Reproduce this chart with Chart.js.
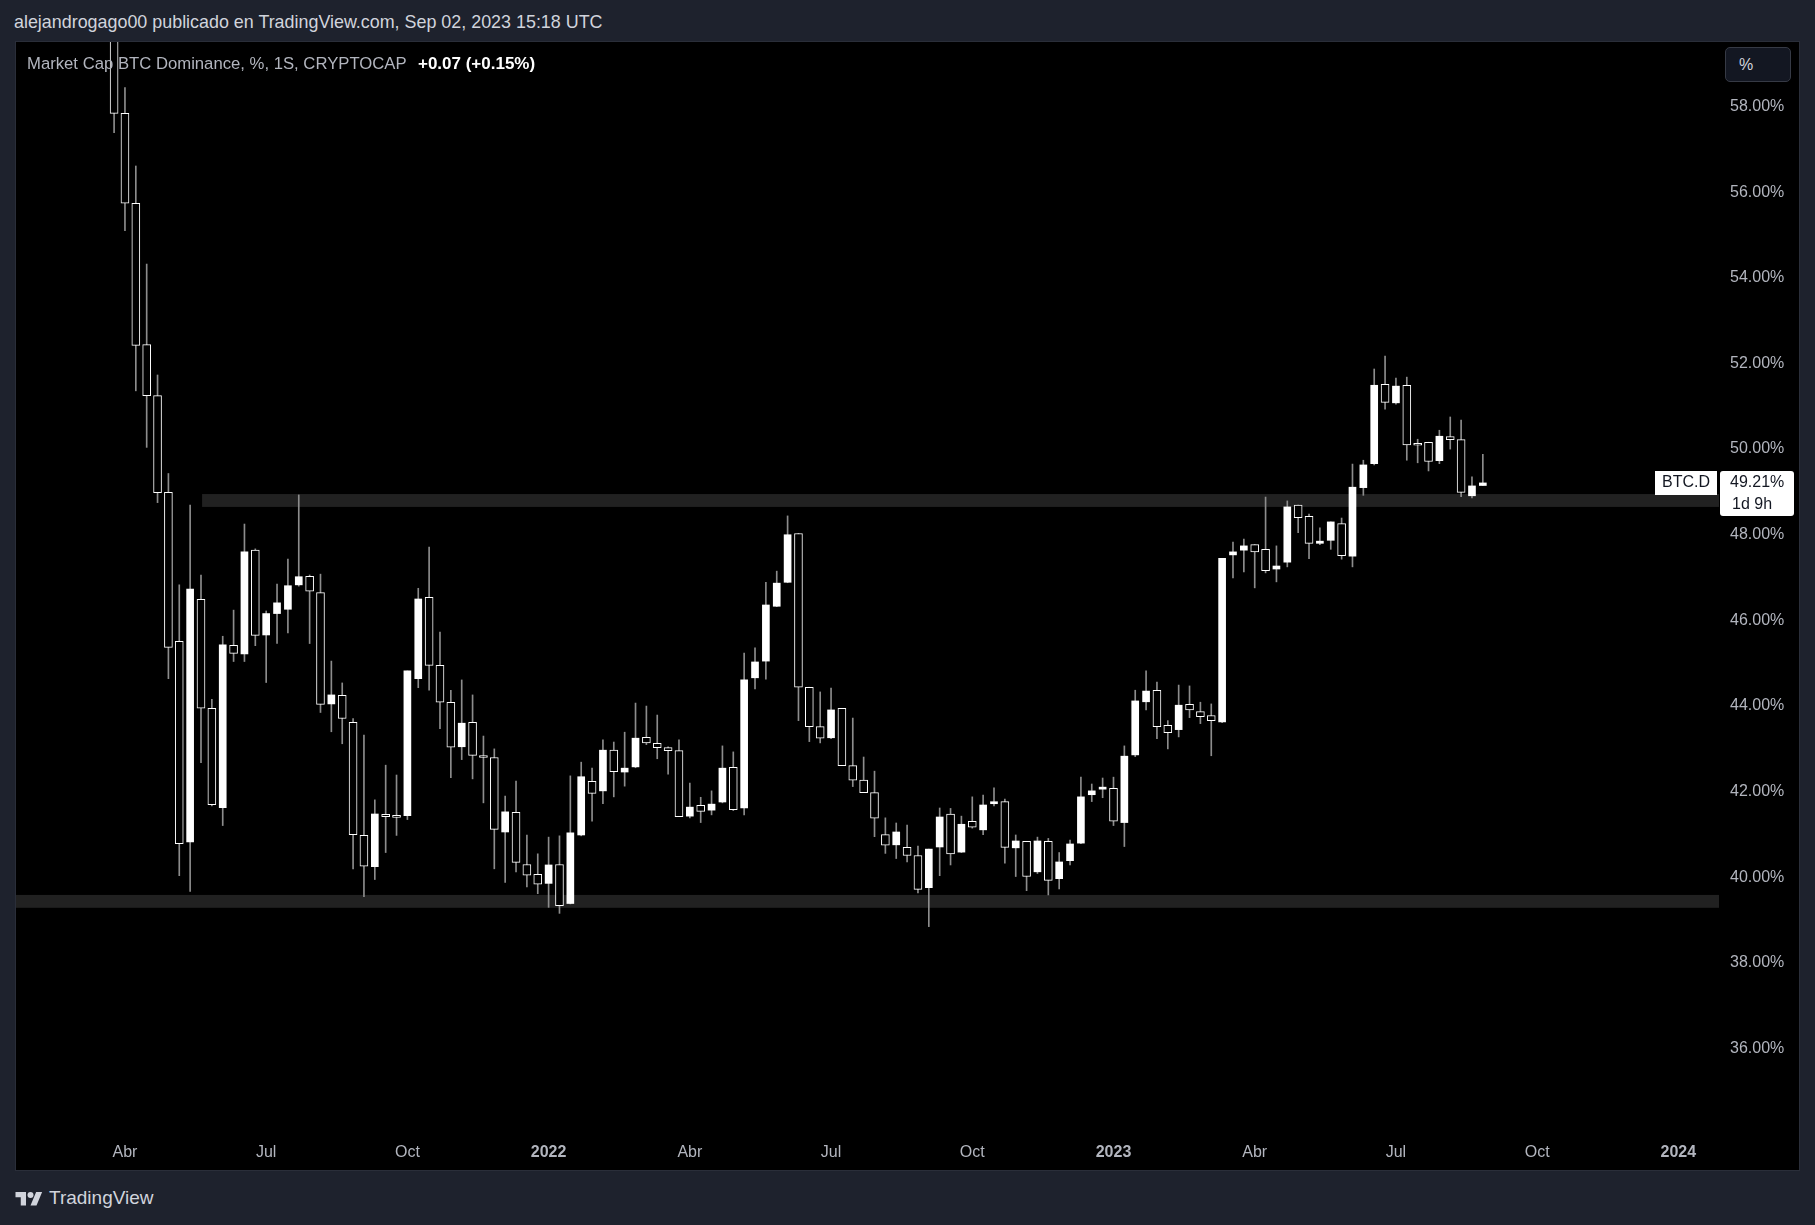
<!DOCTYPE html>
<html>
<head>
<meta charset="utf-8">
<title>BTC.D weekly</title>
<script src="https://cdn.jsdelivr.net/npm/chart.js@4.4.0/dist/chart.umd.min.js"></script>
<style>
  html, body { margin: 0; padding: 0; }
  body {
    width: 1815px; height: 1225px; overflow: hidden; position: relative;
    background: #1e222d; font-family: "Liberation Sans", Arial, sans-serif;
  }
  #title { position: absolute; left: 14px; top: 12px; line-height: 20px; font-size: 17.9px; color: #d1d4dc; white-space: nowrap; }
  #pane { position: absolute; left: 15px; top: 41px; width: 1783px; height: 1128px; border: 1px solid #2a2e39; background: #000; }
  #chart { display: block; }
  #legend { position: absolute; left: 27px; top: 54px; line-height: 20px; font-size: 16.7px; color: #b2b5be; white-space: nowrap; }
  #legend b { color: #fff; font-weight: bold; margin-left: 7px; font-size: 17px; }
  #scaleBtn { position: absolute; left: 1725px; top: 47px; width: 66px; height: 35px; box-sizing: border-box;
    border: 1px solid #363a45; border-radius: 5px; background: #131722; color: #d1d4dc; font-size: 16px; line-height: 33px; padding-left: 13px; }
  #footer { position: absolute; left: 15px; top: 1187px; height: 22px; display: flex; align-items: center; color: #d1d4dc; font-size: 19px; }
  #footer svg { margin-right: 6px; }
</style>
</head>
<body>
<div id="title">alejandrogago00 publicado en TradingView.com, Sep 02, 2023 15:18 UTC</div>
<div id="pane"><canvas id="chart" width="1783" height="1128"></canvas></div>
<div id="legend">Market Cap BTC Dominance, %, 1S, CRYPTOCAP <b>+0.07 (+0.15%)</b></div>
<div id="scaleBtn">%</div>
<div id="footer">
  <svg width="28" height="18" viewBox="0 0 36 24" fill="#d1d4dc"><path d="M14 22H7V11H0V4h14v18zM28 22h-8l7.5-18h8L28 22z"/><circle cx="20" cy="8" r="4"/></svg>
  <span>TradingView</span>
</div>
<script>
// weekly candles, week 0 = week of 5 Apr 2021
const firstWeek = -1;
const opens = [
  59.95, 57.84, 55.74, 52.44, 51.25, 48.99, 45.51, 40.83, 46.49, 43.95,
  41.63, 45.42, 45.22, 47.64, 45.66, 46.16, 46.26, 46.83, 47.03, 46.65,
  44.05, 44.25, 43.62, 40.98, 40.25, 41.47, 41.42, 41.44, 44.64, 46.54,
  44.95, 44.09, 43.05, 43.62, 42.82, 42.80, 41.06, 41.52, 40.30, 40.07,
  39.86, 40.30, 39.39, 40.99, 42.24, 42.02, 42.97, 42.46, 42.58, 43.27,
  43.13, 43.03, 42.96, 41.43, 41.68, 41.57, 41.76, 42.57, 41.62, 44.66,
  45.05, 46.33, 46.89, 48.03, 44.44, 43.52, 43.26, 43.95, 42.61, 42.27,
  41.98, 41.00, 40.76, 40.70, 40.51, 39.76, 40.71, 41.48, 40.59, 41.31,
  41.11, 41.72, 41.77, 40.69, 40.84, 40.13, 40.84, 39.97, 40.39, 40.80,
  41.93, 42.06, 42.08, 41.28, 42.86, 44.10, 44.37, 43.55, 43.45, 44.04,
  43.87, 43.78, 43.63, 47.53, 47.64, 47.77, 47.66, 47.20, 47.36, 48.69,
  48.43, 47.80, 47.87, 48.26, 47.50, 49.10, 49.66, 51.51, 51.08, 51.49,
  50.12, 50.16, 49.73, 50.29, 50.22, 48.91, 49.15
];
const highs = [
  60.40, 58.44, 56.61, 54.32, 51.73, 49.43, 46.83, 48.69, 47.06, 44.16,
  45.63, 46.24, 48.25, 47.67, 46.22, 46.85, 47.43, 48.93, 47.06, 47.08,
  45.05, 44.54, 43.71, 43.32, 41.81, 42.62, 42.39, 44.82, 46.75, 47.71,
  45.73, 44.37, 44.61, 44.26, 43.30, 43.00, 41.90, 42.25, 40.99, 40.55,
  40.94, 40.97, 42.37, 42.69, 42.55, 43.21, 43.16, 43.39, 44.07, 44.00,
  43.79, 43.05, 43.21, 42.20, 41.87, 42.02, 43.07, 42.93, 45.24, 45.36,
  46.89, 47.15, 48.44, 48.03, 44.44, 44.33, 44.42, 43.95, 43.72, 42.81,
  42.48, 41.39, 41.27, 41.22, 40.73, 40.66, 41.62, 41.61, 41.43, 41.88,
  41.92, 42.09, 41.83, 40.99, 40.84, 40.94, 40.91, 40.58, 40.87, 42.34,
  42.18, 42.32, 42.34, 43.07, 44.37, 44.82, 44.56, 43.66, 44.49, 44.47,
  44.09, 44.05, 47.45, 47.83, 47.90, 47.77, 48.88, 47.74, 48.79, 48.69,
  48.48, 48.16, 48.30, 48.39, 49.65, 49.74, 51.87, 52.17, 51.66, 51.68,
  50.23, 50.16, 50.44, 50.75, 50.68, 49.35, 49.88
];
const lows = [
  57.39, 55.10, 51.36, 50.04, 48.75, 44.64, 40.04, 39.67, 42.68, 41.67,
  41.21, 45.04, 45.04, 45.41, 44.55, 45.46, 45.71, 46.80, 45.46, 43.85,
  43.40, 43.12, 40.20, 39.55, 39.95, 40.58, 40.98, 41.35, 44.43, 44.37,
  43.47, 42.33, 42.75, 42.30, 41.74, 40.20, 39.88, 40.13, 39.78, 39.62,
  39.30, 39.16, 39.38, 40.97, 41.31, 41.72, 41.88, 42.13, 42.56, 43.10,
  42.77, 42.41, 41.42, 41.39, 41.28, 41.46, 41.74, 41.56, 41.46, 44.40,
  44.63, 46.32, 46.88, 43.66, 43.17, 43.14, 43.24, 42.61, 42.12, 41.98,
  40.95, 40.56, 40.44, 40.36, 39.64, 38.85, 40.04, 40.29, 40.58, 41.15,
  41.00, 41.67, 40.33, 40.02, 39.69, 40.09, 39.59, 39.73, 40.29, 40.79,
  41.77, 41.86, 41.21, 40.72, 42.82, 43.91, 43.24, 43.00, 43.28, 43.73,
  43.59, 42.84, 43.61, 46.99, 47.13, 46.76, 47.11, 46.90, 47.25, 48.05,
  47.44, 47.77, 47.66, 47.43, 47.25, 48.92, 49.63, 50.93, 51.05, 49.74,
  49.68, 49.49, 49.66, 50.00, 48.89, 48.86, 49.15
];
const closes = [
  57.84, 55.74, 52.42, 51.25, 48.98, 45.37, 40.79, 46.73, 43.95, 41.70,
  45.43, 45.23, 47.60, 45.65, 46.16, 46.41, 46.81, 47.02, 46.68, 44.04,
  44.26, 43.71, 41.00, 40.26, 41.48, 41.42, 41.40, 44.82, 46.50, 44.95,
  44.09, 43.04, 43.60, 42.85, 42.80, 41.12, 41.53, 40.35, 40.05, 39.84,
  40.29, 39.34, 41.04, 42.35, 41.96, 42.97, 42.47, 42.55, 43.25, 43.14,
  43.03, 42.96, 41.42, 41.64, 41.54, 41.71, 42.55, 41.58, 44.61, 45.03,
  46.36, 46.87, 48.00, 44.44, 43.52, 43.25, 43.91, 42.61, 42.27, 41.98,
  41.38, 40.75, 41.06, 40.51, 39.72, 40.66, 41.41, 40.55, 41.24, 41.17,
  41.69, 41.76, 40.70, 40.85, 40.02, 40.85, 39.93, 40.36, 40.78, 41.88,
  42.02, 42.09, 41.31, 42.83, 44.12, 44.35, 43.52, 43.38, 44.02, 43.91,
  43.75, 43.66, 47.45, 47.60, 47.74, 47.60, 47.16, 47.27, 48.65, 48.40,
  47.80, 47.85, 48.30, 47.51, 49.11, 49.63, 51.49, 51.09, 51.47, 50.10,
  50.09, 49.71, 50.30, 50.22, 48.99, 49.14, 49.21
];

const tickWeeks = [0, 13, 26, 39, 52, 65, 78, 91, 104, 117, 130, 143];
const tickLabels = ['Abr', 'Jul', 'Oct', '2022', 'Abr', 'Jul', 'Oct', '2023', 'Abr', 'Jul', 'Oct', '2024'];
const priceTicks = [36, 38, 40, 42, 44, 46, 48, 50, 52, 54, 56, 58];

// drawn support / resistance zones
const zoneTop = [48.95, 39.59];
const zoneBottom = [48.65, 39.29];
const zoneFromWeek = [7.1, -11];

const symbolName = 'BTC.D';
const lastValue = 49.21;
const countdown = '1d 9h';

const FONT = '"Liberation Sans", Arial, sans-serif';

const wickData = opens.map((o, k) => ({ x: firstWeek + k, y: [lows[k], highs[k]] }));
const upData = [];
const downData = [];
opens.forEach((o, k) => {
  const c = closes[k];
  const pt = { x: firstWeek + k, y: [o, c] };
  if (c >= o) upData.push(pt); else downData.push(pt);
});

const zonesPlugin = {
  id: 'zones',
  beforeDatasetsDraw(chart) {
    const { ctx, chartArea, scales: { x, y } } = chart;
    ctx.save();
    ctx.fillStyle = '#212121';
    zoneTop.forEach((t, k) => {
      const x0 = Math.max(x.getPixelForValue(zoneFromWeek[k]), chartArea.left);
      const y0 = y.getPixelForValue(t);
      const y1 = y.getPixelForValue(zoneBottom[k]);
      ctx.fillRect(x0, y0, chartArea.right - x0, y1 - y0);
    });
    ctx.restore();
  }
};

const lastPricePlugin = {
  id: 'lastPrice',
  afterDraw(chart) {
    const { ctx, chartArea, scales: { y } } = chart;
    const py = Math.round(y.getPixelForValue(lastValue));
    const r = chartArea.right;
    ctx.save();
    ctx.fillStyle = '#ffffff';
    ctx.fillRect(r - 64, py - 12, 62, 24);
    ctx.beginPath();
    ctx.roundRect(r + 1, py - 12, 74, 45, 3);
    ctx.fill();
    ctx.fillStyle = '#131722';
    ctx.font = '16px ' + FONT;
    ctx.textBaseline = 'middle';
    ctx.textAlign = 'center';
    ctx.fillText(symbolName, r - 33, py);
    ctx.textAlign = 'left';
    ctx.fillText(lastValue.toFixed(2) + '%', r + 11, py);
    ctx.fillText(countdown, r + 13, py + 22);
    ctx.restore();
  }
};

new Chart(document.getElementById('chart'), {
  type: 'bar',
  data: {
    datasets: [
      { data: wickData, backgroundColor: '#8c8c8c', borderWidth: 0, barThickness: 1, grouped: false, order: 3 },
      { data: downData, backgroundColor: '#000000', borderColor: '#ffffff', borderWidth: 1, borderSkipped: false,
        barThickness: 8, minBarLength: 2, grouped: false, order: 1 },
      { data: upData, backgroundColor: '#ffffff', borderColor: '#ffffff', borderWidth: 0, borderSkipped: false,
        barThickness: 7, minBarLength: 2, grouped: false, order: 2 }
    ]
  },
  options: {
    responsive: false,
    animation: false,
    devicePixelRatio: 1,
    layout: { padding: 0 },
    plugins: { legend: { display: false }, tooltip: { enabled: false } },
    scales: {
      x: {
        type: 'linear',
        min: -10.03,
        max: 146.74,
        offset: false,
        grid: { display: false, drawTicks: false },
        border: { display: false },
        afterFit: (s) => { s.height = 38; s.paddingLeft = 0; s.paddingRight = 0; },
        afterBuildTicks: (s) => { s.ticks = tickWeeks.map(v => ({ value: v })); },
        ticks: {
          autoSkip: false,
          maxRotation: 0,
          padding: 11,
          color: '#b2b5be',
          font: (c) => {
            const lbl = c.tick ? tickLabels[tickWeeks.indexOf(c.tick.value)] : '';
            return { family: FONT, size: 16, weight: /^\d{4}$/.test(lbl || '') ? 'bold' : 'normal' };
          },
          callback: (v) => tickLabels[tickWeeks.indexOf(v)]
        }
      },
      y: {
        type: 'linear',
        position: 'right',
        min: 34.055,
        max: 59.505,
        grid: { display: false, drawTicks: false },
        border: { display: false },
        afterFit: (s) => { s.width = 80; s.paddingTop = 0; s.paddingBottom = 0; },
        afterBuildTicks: (s) => { s.ticks = priceTicks.map(v => ({ value: v })); },
        ticks: {
          padding: 11,
          color: '#b2b5be',
          font: { family: FONT, size: 16 },
          callback: (v) => v.toFixed(2) + '%'
        }
      }
    }
  },
  plugins: [zonesPlugin, lastPricePlugin]
});
</script>
</body>
</html>
